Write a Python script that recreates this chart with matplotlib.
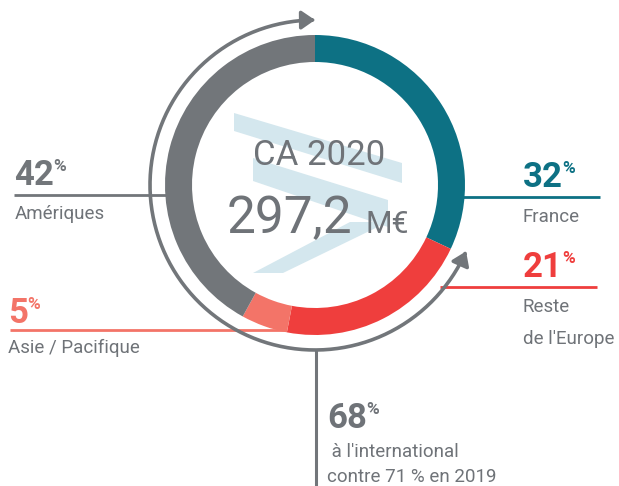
import numpy as np
import matplotlib
matplotlib.use("Agg")
import matplotlib.pyplot as plt
from matplotlib.patches import Polygon, FancyArrowPatch
from matplotlib.path import Path

plt.rcParams['font.family'] = ['Roboto', 'DejaVu Sans']

# CA 2020 par zone géographique (%)
zones = ["France", "Reste|de l'Europe", "Asie / Pacifique", "Amériques"]
shares = [32, 21, 5, 42]
colors = ["#0d7184", "#ef3e3d", "#f37468", "#72767a"]
international = 68
total_label = "297,2"
year_label = "CA 2020"

TXT = "#6f7378"
H = 486
cx, cy = 315, H - 185      # ring centre, pixel coords with y up
R, W = 150, 27             # ring outer radius / width
R_ARC = 165

fig = plt.figure(figsize=(6.19, 4.86), dpi=100)
ax = fig.add_axes([0, 0, 1, 1])

# watermark logo
logo = "#d4e7ee"
for pts in [
    [(234, 113), (402, 163), (402, 183), (234, 131)],
    [(253, 158), (388, 200), (388, 227), (253, 181)],
    [(350, 222), (388, 222), (283, 273), (253, 273)],
]:
    ax.add_patch(Polygon([(x, H - y) for x, y in pts], closed=True,
                         facecolor=logo, edgecolor="none", zorder=0))

wedges, _ = ax.pie(shares, colors=colors, startangle=90, counterclock=False,
                   radius=R, center=(cx, cy),
                   wedgeprops=dict(width=W, linewidth=0, zorder=3))

# double arrow around the international part
start = 90 - 360 * shares[0] / 100
th = np.radians(np.linspace(90, 360 + start + 1.5, 300))
arc = Path(np.column_stack([cx + R_ARC * np.cos(th), cy + R_ARC * np.sin(th)]))
ax.add_patch(FancyArrowPatch(path=arc, arrowstyle="<|-|>,head_length=0.8,head_width=0.55",
                             mutation_scale=10, color=colors[3], linewidth=2.6, zorder=2))
ax.plot([316, 316], [cy - R_ARC, 0], color=colors[3], lw=2.2, zorder=2)

# leader lines (y in image px)
leaders = [
    (440, 600, 197, colors[0]),
    (440, 597, 287, colors[1]),
    (10, 285, 330, colors[2]),
    (14, 180, 195, colors[3]),
]
for x0, x1, y, c in leaders:
    ax.plot([x0, x1], [H - y, H - y], color=c, lw=2, zorder=1,
            solid_capstyle="butt")


def pct(x, y, value, color):
    t = ax.text(x, H - y, str(value), fontsize=25, fontweight="bold",
                color=color, va="baseline", ha="left", zorder=5)
    ax.annotate("%", xy=(1, 1), xycoords=t, xytext=(-0.5, 0),
                textcoords="offset points", fontsize=12.5, fontweight="bold",
                color=color, va="top", ha="left", zorder=5)


label_pos = [(523, 187), (523, 277), (8, 323), (14, 185)]
name_pos = [(523, 222), (523, 312), (8, 353), (15, 219)]
for (x, y), (nx, ny), v, c, name in zip(label_pos, name_pos, shares, colors, zones):
    pct(x, y, v, c)
    for i, line in enumerate(name.split("|")):
        ax.text(nx, H - ny - 32 * i, line, fontsize=13.5, color=TXT,
                va="baseline", ha="left", zorder=5)

pct(327, 428, international, TXT)
ax.text(327, H - 457, " à l'international", fontsize=13.5, color=TXT,
        va="baseline", ha="left", zorder=5)
ax.text(327, H - 482, "contre 71 % en 2019", fontsize=13.5, color=TXT,
        va="baseline", ha="left", zorder=5)

# centre
ax.text(319, H - 165, year_label, fontsize=25, color=TXT, ha="center",
        va="baseline", zorder=5)
ax.text(352, H - 233, total_label, fontsize=37, color=TXT, ha="right",
        va="baseline", zorder=5)
ax.text(366, H - 233, "M€", fontsize=22, color=TXT, ha="left",
        va="baseline", zorder=5)

ax.set_xlim(0, 619)
ax.set_ylim(0, H)
ax.set_aspect("equal")
ax.axis("off")
fig.savefig("out.png", dpi=100)
